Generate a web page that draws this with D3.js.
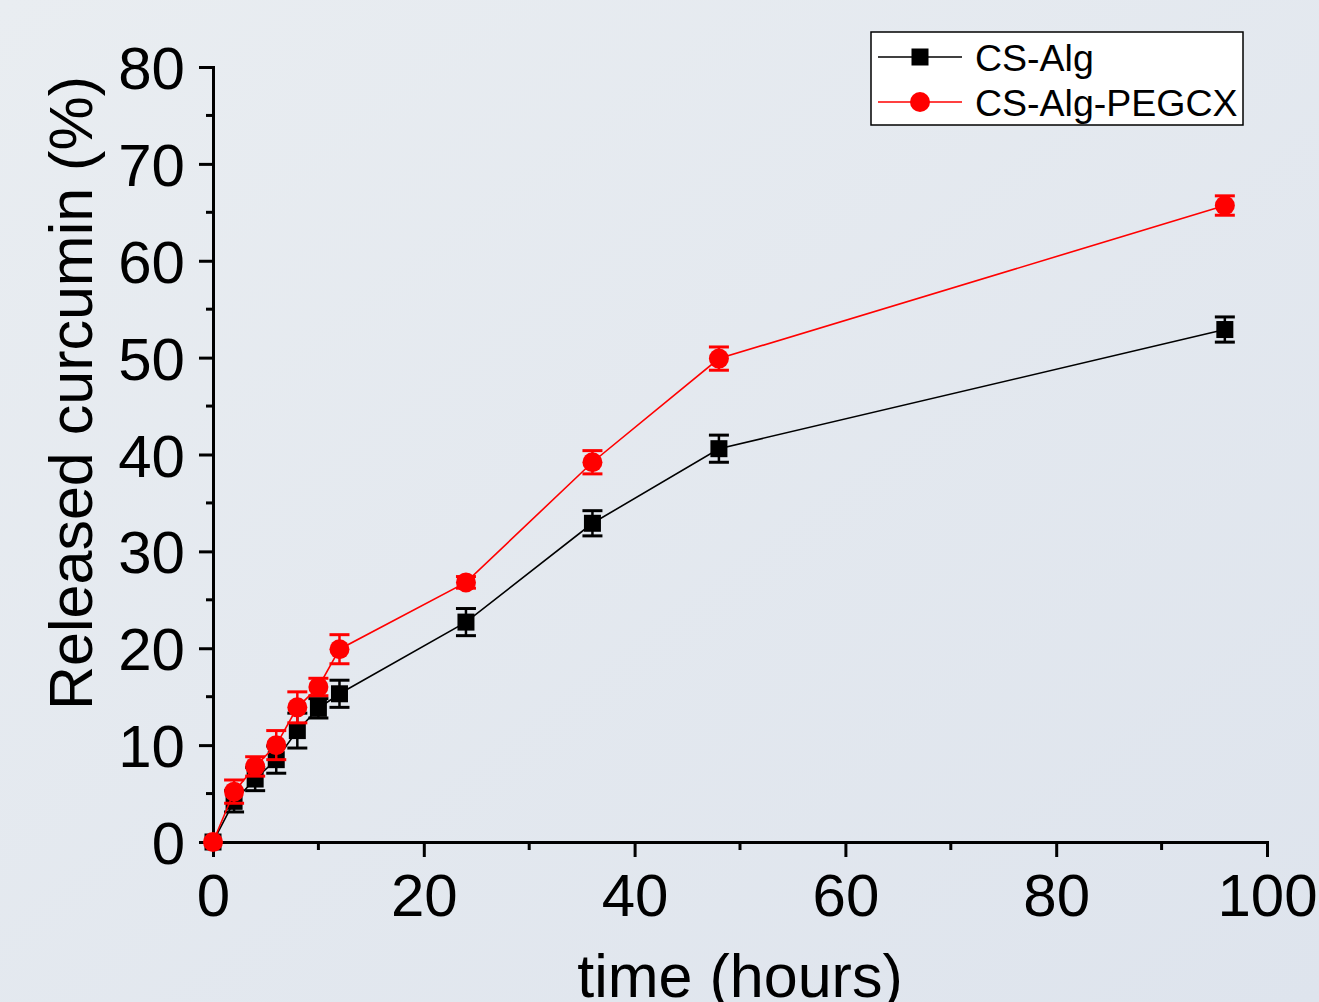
<!DOCTYPE html>
<html><head><meta charset="utf-8">
<script src="https://cdn.jsdelivr.net/npm/d3@7"></script>
<style>html,body{margin:0;padding:0;overflow:hidden;}</style>
</head><body>
<script>
const timeHours = [0, 2, 4, 6, 8, 10, 12, 24, 36, 48, 96];
const csAlg = [0, 4.2, 6.5, 8.5, 11.5, 13.8, 15.3, 22.7, 32.9, 40.6, 52.9];
const csAlgErr = [0, 1.1, 1.2, 1.4, 1.8, 1.0, 1.4, 1.4, 1.3, 1.4, 1.3];
const csAlgPeg = [0, 5.2, 7.8, 10.0, 13.9, 16.0, 19.9, 26.8, 39.2, 49.9, 65.7];
const csAlgPegErr = [0, 1.2, 1.0, 1.5, 1.6, 0.9, 1.5, 0.6, 1.2, 1.2, 1.0];
const xTicks = [0, 20, 40, 60, 80, 100];
const yTicks = [0, 10, 20, 30, 40, 50, 60, 70, 80];
const seriesNames = ["CS-Alg", "CS-Alg-PEGCX"];

const W = 1319, H = 1002;
const svg = d3.select("body").append("svg").attr("width", W).attr("height", H);
const defs = svg.append("defs");
const grad = defs.append("linearGradient").attr("id","bg").attr("x1","0").attr("y1","0").attr("x2","1").attr("y2","1");
grad.append("stop").attr("offset","0").attr("stop-color","#e9edf1");
grad.append("stop").attr("offset","1").attr("stop-color","#dee4ed");
svg.append("rect").attr("width", W).attr("height", H).attr("fill","url(#bg)");

const x = d3.scaleLinear().domain([0,100]).range([213,1267]);
const y = d3.scaleLinear().domain([0,80]).range([842,67]);
const font = "Arial, 'Liberation Sans', sans-serif";

// axes
const xAxis = svg.append("g").attr("transform",`translate(0,${y(0)})`)
  .call(d3.axisBottom(x).tickValues(xTicks).tickSize(15).tickPadding(16).tickFormat(d3.format("d")));
const yAxis = svg.append("g").attr("transform",`translate(${x(0)},0)`)
  .call(d3.axisLeft(y).tickValues(yTicks).tickSize(14).tickPadding(14).tickFormat(d3.format("d")));
[xAxis,yAxis].forEach(a=>{
  a.select(".domain").attr("stroke","#000").attr("stroke-width",3);
  a.selectAll(".tick line").attr("stroke","#000").attr("stroke-width",3);
  a.selectAll("text").attr("font-family",font).attr("font-size",60).attr("fill","#000");
});
yAxis.selectAll(".tick text").attr("dy","0.36em");
// minor ticks
const xMinor = d3.range(10,100,20);
svg.append("g").selectAll("line").data(xMinor).join("line")
  .attr("x1",d=>x(d)).attr("x2",d=>x(d)).attr("y1",y(0)).attr("y2",y(0)+8)
  .attr("stroke","#000").attr("stroke-width",3);
const yMinor = d3.range(5,80,10);
svg.append("g").selectAll("line").data(yMinor).join("line")
  .attr("y1",d=>y(d)).attr("y2",d=>y(d)).attr("x1",x(0)).attr("x2",x(0)-7)
  .attr("stroke","#000").attr("stroke-width",3);

// labels
svg.append("text").attr("x",740).attr("y",997).attr("text-anchor","middle")
  .attr("font-family",font).attr("font-size",61).text("time (hours)");
svg.append("text").attr("transform","translate(92,393) rotate(-90)").attr("text-anchor","middle")
  .attr("font-family",font).attr("font-size",61).text("Released curcumin (%)");

const series = [
  {name:seriesNames[0], vals:csAlg, err:csAlgErr, color:"#000", shape:"square"},
  {name:seriesNames[1], vals:csAlgPeg, err:csAlgPegErr, color:"#ff0000", shape:"circle"}
];
const line = d3.line().x(d=>x(d[0])).y(d=>y(d[1]));
function drawMarker(g, cx, cy, s){
  if(s.shape==="square"){
    g.append("rect").attr("x",cx-8.5).attr("y",cy-8.5).attr("width",17).attr("height",17).attr("fill",s.color);
  } else {
    g.append("circle").attr("cx",cx).attr("cy",cy).attr("r",10).attr("fill",s.color);
  }
}
series.forEach(s=>{
  const pts = timeHours.map((t,i)=>[t,s.vals[i],s.err[i]]);
  const g = svg.append("g");
  g.append("path").datum(pts).attr("d",line).attr("fill","none").attr("stroke",s.color).attr("stroke-width",1.6);
  pts.forEach(p=>{
    if(p[2]>0){
      const cx=x(p[0]), y1=y(p[1]+p[2]), y2=y(p[1]-p[2]);
      g.append("line").attr("x1",cx).attr("x2",cx).attr("y1",y1).attr("y2",y2).attr("stroke",s.color).attr("stroke-width",2.5);
      [y1,y2].forEach(yy=>g.append("line").attr("x1",cx-10).attr("x2",cx+10).attr("y1",yy).attr("y2",yy).attr("stroke",s.color).attr("stroke-width",3));
    }
    drawMarker(g, x(p[0]), y(p[1]), s);
  });
});

// legend
const lg = svg.append("g");
lg.append("rect").attr("x",871).attr("y",32).attr("width",372).attr("height",93).attr("fill","#fff").attr("stroke","#000").attr("stroke-width",1.5);
series.forEach((s,i)=>{
  const cy = 57 + i*45;
  lg.append("line").attr("x1",878).attr("x2",962).attr("y1",cy).attr("y2",cy).attr("stroke",s.color).attr("stroke-width",1.6);
  drawMarker(lg, 920, cy, s);
  lg.append("text").attr("x",975).attr("y",cy).attr("dy","0.36em").attr("font-family",font).attr("font-size",37.5).text(s.name);
});
</script>
</body></html>
